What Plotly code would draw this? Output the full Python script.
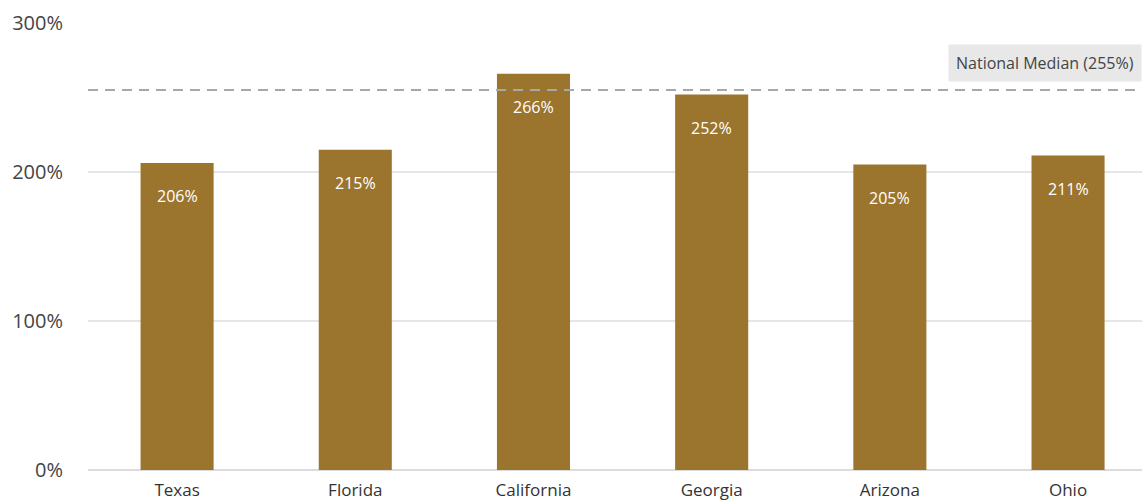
import plotly.graph_objects as go

states = ["Texas", "Florida", "California", "Georgia", "Arizona", "Ohio"]
values = [206, 215, 266, 252, 205, 211]
median_value = 255
median_label = "National Median (255%)"
y_ticks = [0, 100, 200, 300]
y_tick_text = ["0%", "100%", "200%", "300%"]

bar_color = "#9B752E"
font_family = "Open Sans, Noto Sans, sans-serif"

fig = go.Figure()
fig.add_trace(go.Bar(
    x=states, y=values, marker=dict(color=bar_color, line=dict(width=0)),
    width=0.41, hoverinfo="skip",
))

for s, v in zip(states, values):
    fig.add_annotation(
        x=s, y=v, text=f"{v}%", showarrow=False, yanchor="top", yshift=-20,
        font=dict(color="white", size=16, family=font_family),
    )

fig.add_shape(type="line", xref="paper", x0=0, x1=1, y0=median_value, y1=median_value,
              line=dict(color="#a8a8a8", width=2, dash="10px,7px"))
fig.add_annotation(
    xref="paper", x=1, y=median_value, xanchor="right", yanchor="bottom", yshift=8,
    text=median_label, showarrow=False, bgcolor="#e8e8e8",
    font=dict(color="#444444", size=16, family=font_family),
    borderpad=7,
)

fig.update_layout(
    width=1142, height=501,
    margin=dict(l=88, r=0, t=23, b=29),
    plot_bgcolor="white", paper_bgcolor="white",
    showlegend=False,
    font=dict(family=font_family, color="#444444"),
)
fig.update_xaxes(
    range=[-0.5, 5.415], showgrid=False, zeroline=False, showline=False,
    tickfont=dict(size=17, color="#333333", family=font_family),
    ticks="outside", ticklen=5, tickcolor="rgba(0,0,0,0)",
)
fig.update_yaxes(
    range=[0, 300], tickvals=y_ticks, ticktext=y_tick_text,
    showgrid=True, gridcolor="#e6e6e6", gridwidth=1.5, zeroline=True,
    zerolinecolor="#dcdcdc", zerolinewidth=1.5, showline=False,
    tickfont=dict(size=20, color="#444444", family=font_family),
    ticks="outside", ticklen=20, tickcolor="rgba(0,0,0,0)",
)

fig.write_html("out.html", config={"displayModeBar": False},
               post_script="document.body.style.margin='0px';document.body.style.overflow='hidden';")
